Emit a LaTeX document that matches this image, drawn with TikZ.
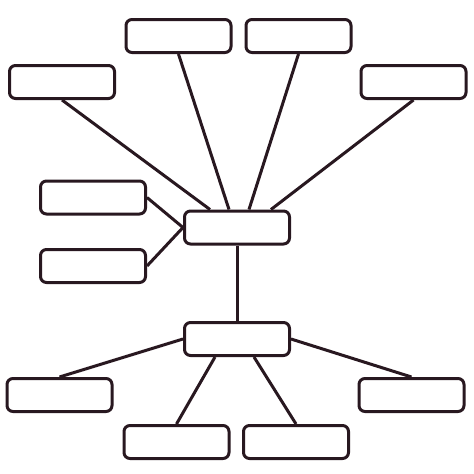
\documentclass[tikz,border=0pt]{standalone}
\begin{document}
\begin{tikzpicture}[x=1pt,y=-1pt,
  ink/.style={color={rgb,255:red,40;green,24;blue,32}},
  box/.style={draw,ink,line width=3pt,rounded corners=6pt,minimum width=105pt,minimum height=33pt,inner sep=0pt,fill=white},
  link/.style={draw,ink,line width=3pt}]
\useasboundingbox[fill=white] (0,0) rectangle (474,474);
\node[box] (b1) at (178.5,36) {};
\node[box] (b2) at (298.5,36) {};
\node[box] (b3) at (62,82) {};
\node[box] (b4) at (413.5,82) {};
\node[box] (b5) at (93,197.5) {};
\node[box] (b6) at (93,266) {};
\node[box] (hub) at (237,227.5) {};
\node[box] (low) at (237,339) {};
\node[box] (b9) at (59.5,395) {};
\node[box] (b10) at (411.5,395) {};
\node[box] (b11) at (176.5,442) {};
\node[box] (b12) at (296,442) {};
\path[link] (b3.south) -- ([xshift=-27pt]hub.north);
\path[link] (b1.south) -- ([xshift=-8pt]hub.north);
\path[link] (b2.south) -- ([xshift=12pt]hub.north);
\path[link] (b4.south) -- ([xshift=34pt]hub.north);
\path[link] (b5.east) -- (hub.west);
\path[link] (b6.east) -- (hub.west);
\path[link] (hub.south) -- (low.north);
\path[link] (low.west) -- (b9.north);
\path[link] (low.east) -- (b10.north);
\path[link] ([xshift=-22pt]low.south) -- (b11.north);
\path[link] ([xshift=17pt]low.south) -- (b12.north);
\end{tikzpicture}
\end{document}
